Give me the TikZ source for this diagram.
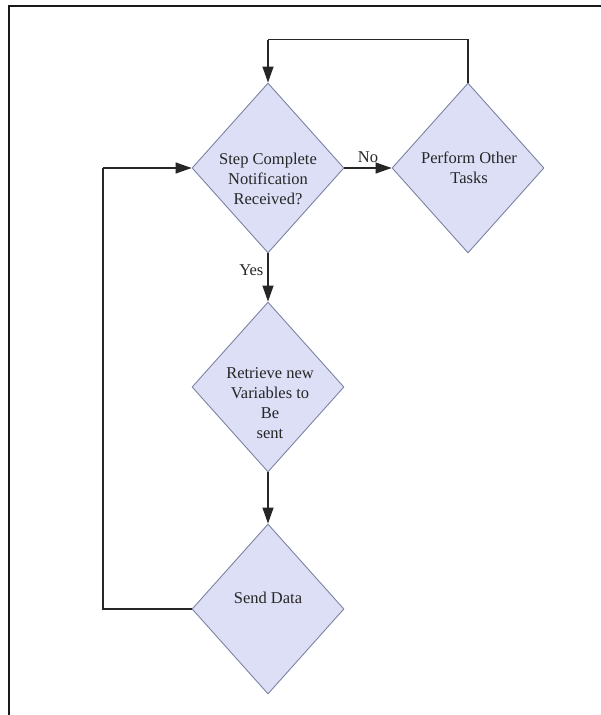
\documentclass[tikz,border=0pt]{standalone}
\usepackage{fontspec}
\setmainfont{Liberation Serif}
\usetikzlibrary{shapes.geometric,arrows.meta,calc}
\definecolor{decfill}{HTML}{DCDFF6}
\definecolor{decline}{HTML}{7C84A4}
\tikzset{
  decision/.style={diamond, draw=decline, fill=decfill, line width=0.9pt,
    inner sep=0pt, minimum width=152pt, minimum height=170pt},
  txt/.style={align=center, inner sep=0pt, font=\fontsize{16.5}{20}\selectfont, text=black!85},
  flow/.style={draw=black!85, line width=1.3pt,
    -{Triangle[length=16pt,width=11pt]}},
  plain/.style={draw=black!85, line width=1.3pt},
  frameline/.style={draw=black!90, line width=2.6pt}
}
\begin{document}
\begin{tikzpicture}[x=1pt,y=-1pt]
  \useasboundingbox (0,0) rectangle (600,715);
  \fill[white] (0,0) rectangle (600,715);

  % outer frame (open to the right and bottom)
  \draw[frameline] (9,716) -- (9,6) -- (601,6);

  % decision shapes
  \node[decision] (d1) at (268,168) {};
  \node[decision] (d2) at (468,168) {};
  \node[decision] (d3) at (268,387) {};
  \node[decision] (d4) at (268,609) {};

  % texts inside the shapes
  \node[txt] (t1) at ($(d1.center)+(0,11)$) {Step Complete\\Notification\\Received?};
  \node[txt] (t2) at ($(d2.center)+(1,0)$) {Perform Other\\Tasks};
  \node[txt] (t3) at ($(d3.center)+(2,16)$) {Retrieve new\\Variables to\\Be\\sent};
  \node[txt] (t4) at ($(d4.center)+(0,-11)$) {Send Data};

  % helper points for the loops
  \coordinate (topl) at ($(d1.north)+(0,-43)$);
  \coordinate (topr) at ($(d2.north)+(0,-43)$);
  \coordinate (lowl) at (103,609);
  \coordinate (upl)  at (103,168);

  % connectors
  \draw[flow] (d1.east) -- node[txt, above=5pt] (no) {No} (d2.west);
  \draw[flow] (d1.south) -- node[txt, left=4pt, pos=0.35] (yes) {Yes} (d3.north);
  \draw[flow] (d3.south) -- (d4.north);
  \draw[plain] (d2.north) -- (topr) -- (topl);
  \draw[flow] (topl) -- (d1.north);
  \draw[plain] (d4.west) -- (lowl) -- (upl);
  \draw[flow] (upl) -- (d1.west);
\end{tikzpicture}
\end{document}
